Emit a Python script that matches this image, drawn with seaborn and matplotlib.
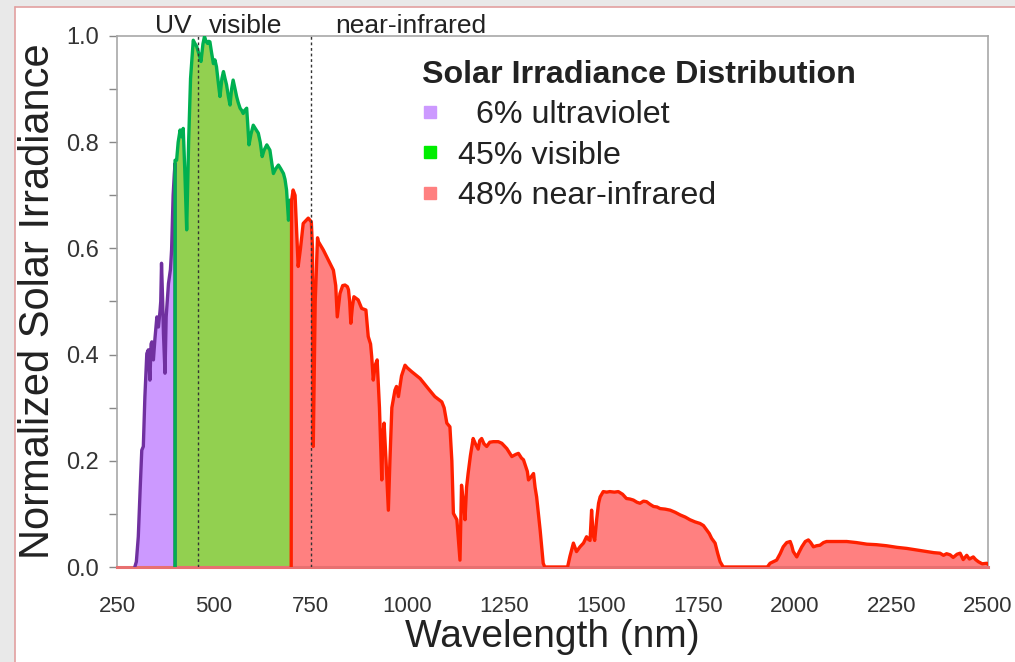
import numpy as np
import pandas as pd
import matplotlib
matplotlib.use("Agg")
import matplotlib.pyplot as plt
import seaborn as sns
from matplotlib.patches import Rectangle
from matplotlib.lines import Line2D
from matplotlib.ticker import MultipleLocator, FormatStrFormatter

# ---- spectrum data (wavelength in nm, normalized irradiance) ----
uv_nm = [296, 300, 305, 310, 314, 318, 322, 327, 331, 335, 338, 340, 344, 348, 353,
         357, 361, 363, 365, 368, 370, 374, 377, 383, 388, 391, 395, 398, 400, 400]
uv_val = [0.0, 0.01, 0.057, 0.15, 0.22, 0.227, 0.32, 0.402, 0.409, 0.352, 0.42, 0.424,
          0.39, 0.43, 0.471, 0.452, 0.481, 0.50, 0.572, 0.50, 0.44, 0.365, 0.471, 0.534,
          0.56, 0.597, 0.70, 0.74, 0.76, 0.0]

vis_nm = [400, 400, 404, 408, 413, 417, 421, 425, 430, 435, 440, 447, 452, 456, 462,
          467, 472, 476, 480, 484, 487, 490, 494, 499, 503, 507, 512, 516, 521, 525,
          529, 533, 538, 542, 546, 550, 555, 559, 563, 568, 572, 576, 580, 585, 588,
          591, 596, 602, 608, 615, 620, 625, 630, 637, 641, 645, 650, 654, 660, 667,
          673, 680, 684, 688, 693, 697, 700]
vis_val = [0.0, 0.766, 0.766, 0.80, 0.823, 0.81, 0.826, 0.75, 0.635, 0.80, 0.92, 0.992,
           0.985, 0.98, 0.965, 0.952, 0.985, 0.999, 0.99, 0.986, 0.99, 0.989, 0.97, 0.948,
           0.955, 0.942, 0.91, 0.886, 0.92, 0.933, 0.92, 0.908, 0.885, 0.87, 0.90, 0.917,
           0.90, 0.886, 0.875, 0.864, 0.86, 0.854, 0.86, 0.864, 0.83, 0.795, 0.815, 0.832,
           0.825, 0.817, 0.80, 0.773, 0.785, 0.795, 0.79, 0.785, 0.76, 0.741, 0.75, 0.757,
           0.75, 0.741, 0.73, 0.71, 0.653, 0.691, 0.69]

nir_nm = [700, 701, 705, 710, 718, 724, 731, 744, 752, 755, 757, 762, 768, 770, 783,
          796, 809, 815, 819, 826, 833, 839, 845, 848, 851, 854, 858, 862, 873, 882,
          893, 899, 905, 908, 912, 917, 922, 928, 934, 937, 940, 945, 951, 955, 960,
          968, 972, 977, 985, 994, 1000, 1011, 1033, 1054, 1071, 1089, 1095, 1102, 1110,
          1115, 1119, 1128, 1136, 1140, 1145, 1149, 1153, 1157, 1163, 1170, 1176, 1183,
          1187, 1192, 1198, 1205, 1213, 1222, 1235, 1244, 1257, 1264, 1270, 1280, 1287,
          1295, 1300, 1310, 1313, 1320, 1326, 1330, 1334, 1343, 1351, 1355, 1414, 1420,
          1429, 1437, 1446, 1455, 1463, 1468, 1472, 1476, 1480, 1484, 1489, 1494, 1498,
          1506, 1515, 1523, 1535, 1545, 1556, 1566, 1575, 1584, 1593, 1601, 1610, 1618,
          1627, 1636, 1645, 1653, 1666, 1679, 1692, 1705, 1718, 1730, 1743, 1756, 1765,
          1773, 1780, 1786, 1795, 1802, 1808, 1816, 1930, 1937, 1954, 1963, 1971, 1980,
          1989, 1993, 1997, 2006, 2012, 2019, 2028, 2036, 2042, 2049, 2057, 2066, 2075,
          2083, 2110, 2135, 2160, 2187, 2212, 2238, 2265, 2290, 2316, 2342, 2360, 2376,
          2385, 2393, 2402, 2410, 2420, 2428, 2436, 2445, 2452, 2462, 2468, 2475, 2485,
          2497, 2500]
nir_val = [0.0, 0.69, 0.71, 0.70, 0.566, 0.60, 0.647, 0.657, 0.65, 0.60, 0.227, 0.50,
           0.62, 0.613, 0.597, 0.578, 0.559, 0.53, 0.471, 0.515, 0.53, 0.531, 0.528, 0.522,
           0.50, 0.459, 0.49, 0.509, 0.503, 0.487, 0.484, 0.434, 0.42, 0.396, 0.352, 0.38,
           0.39, 0.30, 0.164, 0.25, 0.271, 0.20, 0.107, 0.20, 0.30, 0.333, 0.34, 0.321,
           0.36, 0.38, 0.375, 0.368, 0.355, 0.336, 0.321, 0.311, 0.30, 0.271, 0.264, 0.20,
           0.101, 0.089, 0.013, 0.154, 0.12, 0.089, 0.15, 0.176, 0.21, 0.242, 0.232, 0.222,
           0.238, 0.242, 0.232, 0.227, 0.235, 0.236, 0.236, 0.233, 0.223, 0.215, 0.208,
           0.212, 0.214, 0.205, 0.202, 0.18, 0.164, 0.17, 0.176, 0.15, 0.132, 0.07, 0.007,
           0.0, 0.0, 0.02, 0.045, 0.029, 0.038, 0.045, 0.057, 0.052, 0.05, 0.107, 0.06,
           0.05, 0.089, 0.12, 0.132, 0.142, 0.141, 0.142, 0.141, 0.142, 0.137, 0.129,
           0.128, 0.126, 0.122, 0.12, 0.124, 0.123, 0.118, 0.114, 0.113, 0.11, 0.109,
           0.107, 0.103, 0.098, 0.094, 0.089, 0.085, 0.082, 0.078, 0.07, 0.063, 0.054,
           0.045, 0.025, 0.01, 0.0, 0.0, 0.007, 0.013, 0.025, 0.038, 0.046, 0.048, 0.04,
           0.029, 0.019, 0.028, 0.038, 0.048, 0.051, 0.046, 0.038, 0.04, 0.041, 0.046,
           0.048, 0.048, 0.048, 0.046, 0.043, 0.042, 0.04, 0.037, 0.035, 0.032, 0.029,
           0.027, 0.026, 0.022, 0.025, 0.023, 0.018, 0.024, 0.026, 0.014, 0.022, 0.015,
           0.019, 0.014, 0.01, 0.006, 0.007, 0.005]

band_labels = ["  6% ultraviolet", "45% visible", "48% near-infrared"]
legend_title = "Solar Irradiance Distribution"
top_labels = ["UV", "visible", "near-infrared"]
top_label_x = [395, 583, 1010]
divider_nm = [460, 750]
x_ticks = [250, 500, 750, 1000, 1250, 1500, 1750, 2000, 2250, 2500]

# ---- styling ----
sns.set_theme(style="white")
plt.rcParams["font.family"] = ["Liberation Sans", "DejaVu Sans"]

line_colors = ["#7030a0", "#00b050", "#ff2000"]
fill_colors = ["#cc99ff", "#92d050", "#ff8080"]
legend_colors = ["#cc99ff", "#00ee00", "#ff8080"]

W, H = 1015, 662
fig = plt.figure(figsize=(W / 100, H / 100), dpi=100)

# page background with framed white panel
fig.patches.append(Rectangle((0, 0), 1, 1, transform=fig.transFigure,
                             facecolor="#e9e9e9", edgecolor="none", zorder=-20))
fig.patches.append(Rectangle((15 / W, 0), 1, 1 - 7 / H, transform=fig.transFigure,
                             facecolor="white", edgecolor="none", zorder=-19))
fig.lines.append(Line2D([15 / W, 15 / W], [0, 1 - 7 / H], transform=fig.transFigure,
                        color="#e2a0a0", lw=1.2))
fig.lines.append(Line2D([15 / W, 1], [1 - 7 / H, 1 - 7 / H], transform=fig.transFigure,
                        color="#e2a0a0", lw=1.2))

ax = fig.add_axes([117 / W, 1 - 567 / H, 871 / W, 531 / H])
ax.set_facecolor("white")

bands = [(uv_nm, uv_val), (vis_nm, vis_val), (nir_nm, nir_val)]
for i, (nm, val) in enumerate(bands):
    df = pd.DataFrame({"nm": nm, "val": val})
    ax.fill_between(df["nm"], 0, df["val"], color=fill_colors[i], lw=0, zorder=1)
    sns.lineplot(data=df, x="nm", y="val", estimator=None, sort=False,
                 color=line_colors[i], lw=2.4, ax=ax, zorder=3)

for d in divider_nm:
    ax.axvline(d, color="#333333", lw=1.0, ls=(0, (2, 2)), zorder=4)

ax.set_xlim(250, 2500)
ax.set_ylim(0, 1.0)
ax.set_xticks(x_ticks)
ax.set_xticklabels([str(t) for t in x_ticks])
ax.yaxis.set_major_locator(MultipleLocator(0.2))
ax.yaxis.set_minor_locator(MultipleLocator(0.1))
ax.yaxis.set_major_formatter(FormatStrFormatter("%.1f"))

ax.tick_params(axis="both", which="both", direction="out", colors="#888888",
               labelcolor="#333333")
ax.tick_params(axis="x", length=8, width=1, pad=13, labelsize=16)
ax.tick_params(axis="y", which="major", length=6, width=1, pad=7, left=True,
               labelsize=17)
ax.tick_params(axis="y", which="minor", length=6, width=1, left=True)

for side in ["left", "top", "right"]:
    ax.spines[side].set_color("#a8a8a8")
    ax.spines[side].set_linewidth(1.2)
ax.spines["bottom"].set_color("#e87070")
ax.spines["bottom"].set_linewidth(2.2)

ax.set_xlabel("Wavelength (nm)", fontsize=28, color="#222222", labelpad=1)
ax.set_ylabel("Normalized Solar Irradiance", fontsize=30, color="#222222", labelpad=6)

for lab, xpos in zip(top_labels, top_label_x):
    ax.text(xpos, 1.006, lab, transform=ax.get_xaxis_transform(), ha="center",
            va="baseline", fontsize=19, color="#222222")

handles = [Line2D([], [], ls="", marker="s", markersize=9, markerfacecolor=c,
                  markeredgecolor=c) for c in legend_colors]
leg = ax.legend(handles, band_labels, title=legend_title, loc="upper left",
                bbox_to_anchor=(0.35, 0.955), frameon=False, fontsize=23.2,
                title_fontproperties={"weight": "bold", "size": 23.2},
                handlelength=0.5, handletextpad=0.62, labelspacing=0.32,
                borderpad=0, borderaxespad=0, alignment="left")
for t in leg.get_texts():
    t.set_color("#222222")
leg.get_title().set_color("#222222")

fig.savefig("out.png", dpi=100)
